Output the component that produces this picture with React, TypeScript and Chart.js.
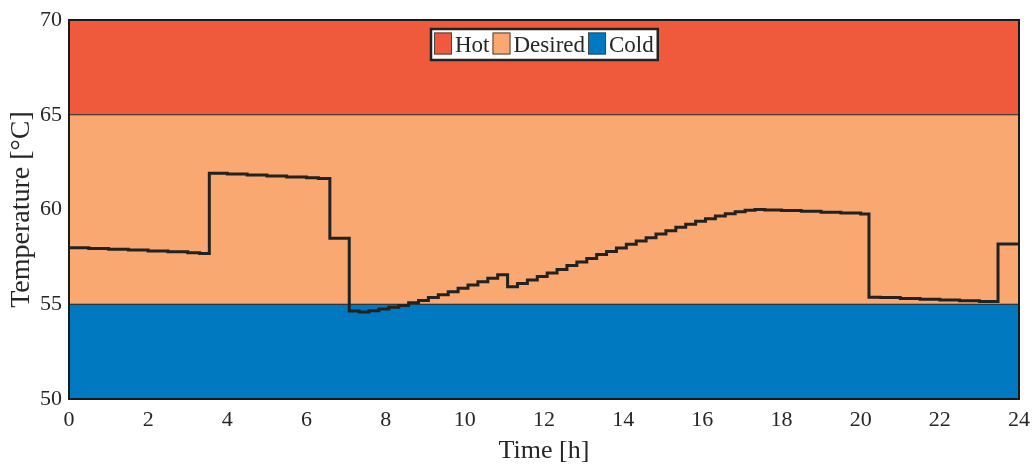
import React, { useEffect, useRef } from "react";
import { Chart, registerables } from "chart.js";

Chart.register(...registerables);

// Time [h] at which each held temperature value starts
const times = [
  0, 0.5, 1, 1.5, 2, 2.5, 3, 3.3,
  3.545, 4, 4.5, 5, 5.5, 6, 6.3,
  6.59,
  7.08, 7.33, 7.58, 7.83, 8.08, 8.33, 8.58, 8.83, 9.08, 9.33, 9.58, 9.83,
  10.08, 10.33, 10.58, 10.83, 11.08, 11.33, 11.58, 11.83, 12.08, 12.33, 12.58, 12.83,
  13.08, 13.33, 13.58, 13.83, 14.08, 14.33, 14.58, 14.83, 15.08, 15.33, 15.58, 15.83,
  16.08, 16.33, 16.58, 16.83, 17.08, 17.33, 17.58,
  18, 18.5, 19, 19.5, 20,
  20.21, 20.5, 21, 21.5, 22, 22.5, 23,
  23.47, 24,
];

// Temperature [°C] held from each time above
const temps = [
  57.98, 57.94, 57.9, 57.86, 57.81, 57.77, 57.72, 57.68,
  61.91, 61.87, 61.82, 61.77, 61.72, 61.67, 61.63,
  58.48,
  54.64, 54.59, 54.66, 54.75, 54.84, 54.94, 55.08, 55.2, 55.35, 55.5, 55.66, 55.84,
  56.02, 56.19, 56.37, 56.56, 55.93, 56.1, 56.28, 56.46, 56.65, 56.84, 57.04, 57.23,
  57.42, 57.62, 57.79, 57.97, 58.16, 58.34, 58.51, 58.71, 58.88, 59.06, 59.22, 59.38,
  59.51, 59.66, 59.78, 59.88, 59.96, 60.0, 59.98,
  59.95, 59.91, 59.86, 59.81, 59.76,
  55.37, 55.35, 55.31, 55.27, 55.23, 55.19, 55.14,
  58.18, 58.18,
];

const bandNames = ["Hot", "Desired", "Cold"];
const bandUpper = [70, 65, 55];
const bandLower = [65, 55, 50];
const bandColors = ["#EF5A3D", "#F8A870", "#0079C1"];

const xTicks = [0, 2, 4, 6, 8, 10, 12, 14, 16, 18, 20, 22, 24];
const yTicks = [50, 55, 60, 65, 70];

const xTitle = "Time [h]";
const yTitle = "Temperature [°C]";

const SERIF = '"Liberation Serif", "Times New Roman", serif';
const TEXT = "#262626";

export default function App() {
  const ref = useRef<HTMLCanvasElement | null>(null);

  useEffect(() => {
    document.body.style.margin = "0";
    const canvas = ref.current;
    if (!canvas) return;

    const xMin = xTicks[0];
    const xMax = xTicks[xTicks.length - 1];

    const bandSets = bandNames.map((name, i) => ({
      label: name,
      data: [
        { x: xMin, y: bandUpper[i] },
        { x: xMax, y: bandUpper[i] },
      ],
      borderColor: "#1e1e1e",
      borderWidth: 1,
      backgroundColor: bandColors[i],
      fill: { value: bandLower[i] },
      pointRadius: 0,
      order: 10 - i,
    }));

    const lineSet = {
      label: "Temperature",
      data: times.map((t, i) => ({ x: t, y: temps[i] })),
      borderColor: "#222222",
      borderWidth: 3,
      stepped: true as const,
      fill: false,
      pointRadius: 0,
      borderJoinStyle: "miter" as const,
      order: 0,
    };

    const frame = {
      id: "frame",
      afterDatasetsDraw(chart: any) {
        const { ctx, chartArea: a } = chart;
        ctx.save();
        ctx.strokeStyle = "#1a1a1a";
        ctx.lineWidth = 2;
        ctx.strokeRect(a.left, a.top, a.right - a.left, a.bottom - a.top);
        ctx.restore();
      },
    };

    const legendBox = {
      id: "legendBox",
      afterDraw(chart: any) {
        const { ctx, chartArea: a } = chart;
        ctx.save();
        ctx.font = `23px ${SERIF}`;
        const sw = 18, sh = 22, gapT = 3, gapI = 3, padL = 3, padR = 4;
        const widths = bandNames.map((n) => ctx.measureText(n).width);
        let total = padL + padR;
        widths.forEach((w, i) => {
          total += sw + gapT + w + (i > 0 ? gapI : 0);
        });
        const cx = (a.left + a.right) / 2;
        const left = Math.round(cx - total / 2);
        const top = 29;
        const h = 31;
        ctx.fillStyle = "#ffffff";
        ctx.fillRect(left, top, total, h);
        ctx.strokeStyle = "#222222";
        ctx.lineWidth = 2.5;
        ctx.strokeRect(left, top, total, h);
        let x = left + padL;
        bandNames.forEach((n, i) => {
          if (i > 0) x += gapI;
          ctx.fillStyle = bandColors[i];
          ctx.fillRect(x, top + 3.5, sw, sh);
          ctx.strokeStyle = "#444444";
          ctx.lineWidth = 1;
          ctx.strokeRect(x + 0.5, top + 4, sw - 1, sh - 1);
          x += sw + gapT;
          ctx.fillStyle = TEXT;
          ctx.textBaseline = "middle";
          ctx.textAlign = "left";
          ctx.fillText(n, x, top + h / 2 + 1);
          x += widths[i];
        });
        ctx.restore();
      },
    };

    const chart = new Chart(canvas, {
      type: "line",
      data: { datasets: [lineSet as any, ...(bandSets as any)] },
      options: {
        responsive: false,
        animation: false,
        events: [],
        layout: { padding: { top: 20, right: 14, left: 0, bottom: 0 } },
        plugins: {
          legend: { display: false },
          tooltip: { enabled: false },
        },
        scales: {
          x: {
            type: "linear",
            min: xMin,
            max: xMax,
            grid: { display: false, drawTicks: false },
            border: { display: false },
            afterBuildTicks: (s: any) => {
              s.ticks = xTicks.map((v) => ({ value: v }));
            },
            afterFit: (s: any) => {
              s.height = 68;
              s.paddingLeft = 0;
              s.paddingRight = 0;
            },
            ticks: {
              autoSkip: false,
              maxRotation: 0,
              padding: 8,
              color: TEXT,
              font: { family: SERIF, size: 22 },
            },
            title: {
              display: true,
              text: xTitle,
              color: TEXT,
              padding: 0,
              font: { family: SERIF, size: 26 },
            },
          },
          y: {
            type: "linear",
            min: yTicks[0],
            max: yTicks[yTicks.length - 1],
            grid: { display: false, drawTicks: false },
            border: { display: false },
            afterBuildTicks: (s: any) => {
              s.ticks = yTicks.map((v) => ({ value: v }));
            },
            afterFit: (s: any) => {
              s.width = 69;
              s.paddingTop = 0;
              s.paddingBottom = 0;
            },
            ticks: {
              autoSkip: false,
              padding: 7,
              color: TEXT,
              font: { family: SERIF, size: 22 },
            },
            title: {
              display: true,
              text: yTitle,
              color: TEXT,
              padding: { top: 5, bottom: 0 },
              font: { family: SERIF, size: 28 },
            },
          },
        },
      },
      plugins: [frame, legendBox],
    });

    return () => chart.destroy();
  }, []);

  return (
    <div style={{ position: "fixed", left: 0, top: 0, width: 1033, height: 467 }}>
      <canvas ref={ref} width={1033} height={467} style={{ display: "block" }} />
    </div>
  );
}
